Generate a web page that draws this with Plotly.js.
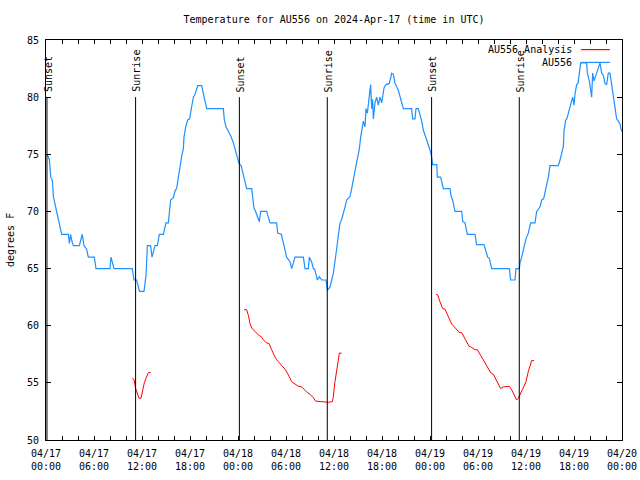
<!DOCTYPE html>
<html>
<head>
<meta charset="utf-8">
<script src="https://cdn.plot.ly/plotly-3.0.1.min.js"></script>
<style>html,body{margin:0;padding:0;background:#fff}#chart{width:640px;height:480px}</style>
</head>
<body>
<div id="chart"></div>
<script>
// Hours since 2024-04-17 00:00 UTC
const obsHours = [0.17,0.42,0.6,0.8,0.92,1.1,1.33,1.55,1.75,1.96,2.79,2.92,3.08,3.2,3.42,4.17,4.35,4.54,4.75,5.08,5.29,6.04,6.25,8.0,8.125,8.3,8.5,10.79,11.0,11.33,11.54,11.7,12.25,12.5,12.67,13.08,13.25,13.42,13.625,13.92,14.05,14.17,14.67,14.85,15.0,15.29,15.42,15.58,15.92,16.125,16.33,16.5,16.75,16.95,17.17,17.25,17.46,17.71,17.95,18.2,18.42,18.6,18.83,18.96,19.46,19.6,19.79,20.08,22.17,22.29,22.5,22.79,23.1,23.42,23.83,24.125,24.4,24.67,25.08,25.71,25.83,26.0,26.2,26.42,26.67,26.83,27.58,27.79,28.0,28.83,28.96,29.42,29.67,29.875,30.08,30.5,30.71,30.92,31.125,32.17,32.375,32.79,32.92,33.2,33.42,33.6,33.92,34.17,34.46,35.0,35.17,35.5,35.71,35.92,36.25,36.54,36.75,36.96,37.17,37.38,37.58,38.0,38.21,38.5,38.75,39.04,39.17,39.33,39.5,39.67,39.875,40.0,40.17,40.42,40.58,40.71,40.83,40.92,41.125,41.33,41.54,41.75,41.96,42.25,42.5,42.92,43.21,43.42,43.625,44.04,44.25,44.67,45.71,45.83,46.125,46.25,46.54,46.75,46.96,47.17,47.58,47.8,48.0,48.2,48.33,48.85,48.92,49.33,49.5,49.67,50.5,50.65,50.83,51.125,51.96,52.1,52.375,52.67,53.625,53.83,54.75,54.95,55.21,55.42,55.71,57.92,58.08,58.625,58.75,59.17,59.25,59.46,59.75,60.0,60.29,60.58,61.125,61.33,61.75,61.96,62.2,62.5,62.79,63.0,64.04,64.25,64.46,64.67,64.75,64.96,65.1,65.42,65.6,65.83,66.0,66.125,66.33,66.5,66.67,66.83,67.58,67.67,67.92,68.08,68.21,68.33,68.5,68.83,69.04,69.25,69.46,69.67,69.875,70.08,70.29,70.5,70.71,70.92,71.125,71.33,71.54,71.75,71.875,72.0];
const obsTemps = [75,74.5,73,72.7,71.3,70.7,70,69.5,68.8,68,68,67.2,68,67.5,67,67,67.5,68,67,66.7,66,66,65,65,66,65.5,65,65,64,64,63.3,63,63,64.4,67,67,66,66.5,67,67,67.5,68,68,68.5,69,69,70,71,71.2,71.8,72,72.8,74,74.8,75.5,76.5,77.4,78,78.1,79.3,80,80.2,80.7,81,81,80.5,80,79,79,78,77.4,77,76.6,76,75,74.2,74,73.1,72,72,71,70.3,70,69.5,69.1,70,70,69.5,69,69,68.1,68,67.2,66.6,66,65.6,65,65.5,66,66,65,65,66,65.6,65,64.9,64,64.3,64,64,63.1,63.4,64,64.6,66.3,67.8,69,69.3,70,70.4,71,71.3,72,73.2,74,75,75.5,76.5,77.4,77.9,77.4,79,78.6,80.3,81.1,79,79.8,78.1,79.5,80,79.3,80,79.5,80.8,81.1,81.2,82.1,82,81.2,80.6,80,79,79,78.1,78.1,79,79,78.5,77.9,77.1,76.25,75.95,75.4,74.8,74.1,74.1,73,73,72.6,72,72,71.3,71,70,70,69.1,69,68,68,67.1,67.1,66.6,66,65.9,65,65,64,64,65,65,65.5,66,66.8,67.6,68.1,69,69,70,70.4,71,71.1,72,73,74,74,74.5,75.1,75.7,77,78,78.1,79,79.6,80,79.3,80.3,81.1,81.2,82.1,83,83,82.1,81.4,80.6,80,82.1,81.4,82.1,82.5,83,82.1,81.9,81.2,81.1,82.1,82.1,81.1,80.1,79.5,78.1,77.9,77.65,77.2,77];

const anaHours = [10.79,11.0,11.21,11.42,11.625,11.875,12.08,12.29,12.5,12.79,13.08,null,
  24.75,25.08,25.3,25.5,25.71,26.125,26.54,26.96,27.17,27.58,27.875,28.2,28.5,28.7,29.04,29.46,29.875,30.3,30.7,31.125,31.54,31.96,32.17,32.58,33.0,33.42,33.7,34.25,34.67,35.08,35.29,35.79,35.92,36.1,36.33,36.54,36.67,36.96,null,
  48.75,48.96,49.17,49.375,49.58,49.875,50.08,50.29,50.5,50.71,51.04,51.33,51.67,51.96,52.25,52.58,52.875,53.2,53.625,53.92,54.17,54.46,54.875,55.29,55.58,55.92,56.33,56.83,57.17,57.5,57.92,58.2,58.5,58.83,59.04,59.33,59.67,60.0,60.29,60.5,60.71,61.0];
const anaTemps = [55.4,55.3,54.5,54.1,53.65,53.65,54.4,55.0,55.4,55.9,55.9,null,
  61.4,61.4,60.9,60.2,59.8,59.5,59.2,59.0,58.75,58.5,58.45,57.9,57.45,57.15,56.85,56.5,56.2,55.7,55.1,54.9,54.7,54.65,54.5,54.2,54.0,53.7,53.4,53.35,53.35,53.3,53.3,53.35,53.8,55.0,56.1,57.3,57.6,57.6,null,
  62.75,62.7,62.25,61.8,61.5,61.45,61.1,60.7,60.35,60.15,59.9,59.7,59.4,59.4,59.0,58.5,58.2,58.1,57.9,57.9,57.6,57.15,56.7,56.2,55.9,55.75,55.2,54.5,54.65,54.7,54.7,54.4,53.9,53.5,53.65,54.1,54.5,55.1,56.0,56.6,56.95,56.95];

const sunsetHours = [0.12, 24.17, 48.2];
const sunriseHours = [11.2, 35.16, 59.16];

const tickHours = [0,6,12,18,24,30,36,42,48,54,60,66,72];
const tickLabels = ["04/17<br>00:00","04/17<br>06:00","04/17<br>12:00","04/17<br>18:00",
  "04/18<br>00:00","04/18<br>06:00","04/18<br>12:00","04/18<br>18:00",
  "04/19<br>00:00","04/19<br>06:00","04/19<br>12:00","04/19<br>18:00","04/20<br>00:00"];

const BASE = Date.UTC(2024, 3, 17);
function toDate(h) {
  if (h === null) return null;
  return new Date(BASE + h * 3600000).toISOString().replace('T', ' ').replace('Z', '');
}

const FONT = {family: 'DejaVu Sans Mono, monospace', size: 10, color: '#000'};
const BLUE = '#1e90ff';
const RED = '#ff0000';

const traces = [
  {x: anaHours.map(toDate), y: anaTemps, type: 'scatter', mode: 'lines', name: 'AU556 Analysis',
   line: {color: RED, width: 1}, connectgaps: false, showlegend: false, hoverinfo: 'skip'},
  {x: obsHours.map(toDate), y: obsTemps, type: 'scatter', mode: 'lines', name: 'AU556',
   line: {color: BLUE, width: 1.2}, showlegend: false, hoverinfo: 'skip'}
];

const shapes = [];
const annotations = [];
sunsetHours.concat(sunriseHours).forEach(function (h, i) {
  const label = i < sunsetHours.length ? 'Sunset' : 'Sunrise';
  shapes.push({type: 'line', xref: 'x', yref: 'y', x0: toDate(h), x1: toDate(h), y0: 50, y1: 80,
    line: {color: '#000', width: 1}});
  annotations.push({x: toDate(h), y: 80, xref: 'x', yref: 'y', text: label, textangle: -90,
    showarrow: false, xanchor: 'center', yanchor: 'bottom', yshift: 3, xshift: 1, font: FONT});
});

// Legend (gnuplot style: text then sample on the right)
const legendItems = [{name: 'AU556 Analysis', color: RED, y: 0.976}, {name: 'AU556', color: BLUE, y: 0.944}];
legendItems.forEach(function (it) {
  annotations.push({xref: 'paper', yref: 'paper', x: 0.9167, y: it.y, text: it.name, showarrow: false,
    xanchor: 'right', yanchor: 'middle', font: FONT});
  shapes.push({type: 'line', xref: 'paper', yref: 'paper', x0: 0.9288, x1: 0.979, y0: it.y, y1: it.y,
    line: {color: it.color, width: 1.2}});
});

// Y axis title
annotations.push({xref: 'paper', yref: 'paper', x: -0.0625, y: 0.5, text: 'degrees F', textangle: -90,
  showarrow: false, xanchor: 'center', yanchor: 'middle', font: FONT});

const layout = {
  width: 640, height: 480,
  margin: {l: 46, r: 18, t: 40, b: 40},
  paper_bgcolor: '#fff', plot_bgcolor: '#fff',
  font: FONT,
  title: {text: 'Temperature for AU556 on 2024-Apr-17 (time in UTC)', font: FONT,
    x: 0.5, xref: 'paper', y: 0.96, yref: 'container', yanchor: 'middle'},
  showlegend: false,
  xaxis: {
    type: 'date', range: [toDate(0), toDate(72)], showgrid: false, zeroline: false,
    showline: true, linecolor: '#000', linewidth: 1, mirror: 'ticks',
    ticks: 'inside', ticklen: 4, tickcolor: '#000', tickwidth: 1,
    tickmode: 'array', tickvals: tickHours.map(toDate), ticktext: tickLabels,
    tickfont: FONT, ticklabelstandoff: 4,
    minor: {ticks: 'inside', ticklen: 4, tickcolor: '#000', tickwidth: 1, dtick: 7200000, tick0: toDate(0), showgrid: false}
  },
  yaxis: {
    range: [50, 85], dtick: 5, tick0: 50, showgrid: false, zeroline: false,
    showline: true, linecolor: '#000', linewidth: 1, mirror: 'ticks',
    ticks: 'inside', ticklen: 5, tickcolor: '#000', tickwidth: 1,
    tickfont: FONT, ticklabelstandoff: 4
  },
  shapes: shapes,
  annotations: annotations
};

Plotly.newPlot('chart', traces, layout, {staticPlot: true, displayModeBar: false});
</script>
</body>
</html>
